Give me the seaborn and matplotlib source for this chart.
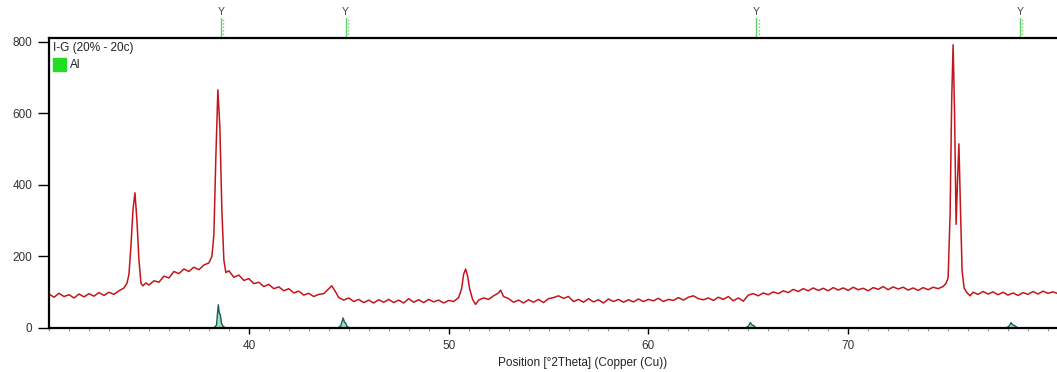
import matplotlib
matplotlib.use("Agg")
import matplotlib.pyplot as plt
import matplotlib.transforms as mtransforms
from matplotlib.ticker import MultipleLocator
import seaborn as sns
import pandas as pd

theta = [30.0, 30.25, 30.5, 30.75, 31.0, 31.25, 31.5, 31.75, 32.0, 32.25, 32.5, 32.75, 33.0, 33.25, 33.5, 33.75,
         33.9, 34.0, 34.1, 34.2, 34.3, 34.4, 34.5, 34.6, 34.7, 34.85,
         35.0, 35.25, 35.5, 35.75, 36.0, 36.25, 36.5, 36.75, 37.0, 37.25, 37.5, 37.75, 38.0, 38.15,
         38.25, 38.35, 38.45, 38.55, 38.65, 38.75, 38.85,
         39.0, 39.25, 39.5, 39.75, 40.0, 40.25, 40.5, 40.75, 41.0, 41.25, 41.5, 41.75, 42.0, 42.25, 42.5, 42.75,
         43.0, 43.25, 43.5, 43.75, 44.0, 44.15, 44.3, 44.5, 44.75, 45.0, 45.25, 45.5, 45.75, 46.0, 46.25, 46.5,
         46.75, 47.0, 47.25, 47.5, 47.75, 48.0, 48.25, 48.5, 48.75, 49.0, 49.25, 49.5, 49.75, 50.0, 50.25, 50.5,
         50.65, 50.75, 50.85, 50.95, 51.05, 51.2, 51.35, 51.5, 51.75, 52.0, 52.25, 52.5, 52.6, 52.75,
         53.0, 53.25, 53.5, 53.75, 54.0, 54.25, 54.5, 54.75, 55.0, 55.25, 55.5, 55.75, 56.0, 56.25, 56.5, 56.75,
         57.0, 57.25, 57.5, 57.75, 58.0, 58.25, 58.5, 58.75, 59.0, 59.25, 59.5, 59.75, 60.0, 60.25, 60.5, 60.75,
         61.0, 61.25, 61.5, 61.75, 62.0, 62.25, 62.5, 62.75, 63.0, 63.25, 63.5, 63.75, 64.0, 64.25, 64.5, 64.75,
         65.0, 65.25, 65.5, 65.75, 66.0, 66.25, 66.5, 66.75, 67.0, 67.25, 67.5, 67.75, 68.0, 68.25, 68.5, 68.75,
         69.0, 69.25, 69.5, 69.75, 70.0, 70.25, 70.5, 70.75, 71.0, 71.25, 71.5, 71.75, 72.0, 72.25, 72.5, 72.75,
         73.0, 73.25, 73.5, 73.75, 74.0, 74.25, 74.5, 74.75, 74.9, 75.0,
         75.1, 75.18, 75.25, 75.32, 75.4, 75.47, 75.54, 75.62, 75.7, 75.8, 75.95,
         76.1, 76.25, 76.5, 76.75, 77.0, 77.25, 77.5, 77.75, 78.0, 78.25, 78.5, 78.75, 79.0, 79.25, 79.5, 79.75,
         80.0, 80.25, 80.5]
counts = [95, 86, 97, 88, 93, 84, 95, 87, 96, 89, 99, 91, 100, 94, 104, 112,
          125, 150, 230, 330, 378, 300, 190, 125, 118, 126,
          120, 132, 128, 145, 140, 158, 152, 165, 158, 170, 163, 176, 182, 200,
          260, 480, 666, 560, 330, 190, 155,
          160, 142, 148, 133, 138, 124, 128, 116, 122, 110, 115, 104, 110, 98, 103, 92,
          97, 88, 94, 96, 110, 118, 105, 85, 78, 84, 74, 80, 71, 78, 70, 79,
          72, 80, 71, 78, 70, 82, 72, 79, 71, 80, 73, 78, 70, 77, 74, 85,
          110, 150, 165, 145, 110, 80, 66, 78, 84, 80, 90, 98, 106, 88,
          82, 72, 78, 70, 79, 72, 80, 71, 82, 85, 90, 83, 88, 74, 80, 72,
          82, 73, 79, 70, 81, 74, 80, 72, 79, 73, 81, 74, 80, 76, 83, 74,
          80, 77, 85, 78, 86, 90, 82, 79, 84, 77, 86, 80, 88, 76, 84, 75,
          92, 96, 90, 98, 93, 101, 96, 104, 99, 108, 102, 110, 104, 112, 105, 111,
          104, 113, 106, 112, 105, 114, 107, 111, 104, 113, 108, 116, 107, 115, 109, 114,
          106, 112, 105, 113, 107, 114, 110, 116, 125, 140,
          320, 640, 792, 610, 290, 410, 515, 330, 160, 112, 98,
          90, 100, 94, 102, 95, 101, 93, 100, 92, 98, 91, 99, 94, 102, 95, 103,
          97, 101, 96]

# Al reference pattern profile (teal)
ref_theta = [30.0, 38.25, 38.38, 38.47, 38.52, 38.57, 38.63, 38.72, 38.85,
             44.45, 44.6, 44.72, 44.78, 44.84, 44.92, 45.05,
             64.85, 65.0, 65.1, 65.18, 65.26, 65.4,
             77.9, 78.05, 78.15, 78.23, 78.32, 78.5, 80.5]
ref_counts = [0, 0, 8, 65, 42, 38, 14, 4, 0,
              0, 6, 28, 17, 14, 4, 0,
              0, 5, 15, 9, 7, 0,
              0, 5, 15, 9, 7, 0, 0]

# stick markers of the Al card above the plot
marker_pos = [38.6, 44.85, 65.4, 78.6]

yticks = [0, 200, 400, 600, 800]
xticks = [40, 50, 60, 70]

scan = pd.DataFrame({"theta": theta, "counts": counts})
ref = pd.DataFrame({"theta": ref_theta, "counts": ref_counts})

sns.set_style("white")
plt.rcParams["font.family"] = ["Liberation Sans", "DejaVu Sans"]

fig = plt.figure(figsize=(10.57, 3.72), dpi=100)
ax = fig.add_axes([0.0464, 0.1183, 0.9536, 0.7796])

ax.fill_between(ref["theta"], ref["counts"], color="#9fe3b0", lw=0)
sns.lineplot(data=ref, x="theta", y="counts", ax=ax, color="#1d5a6b", lw=1.0, estimator=None, sort=False)
sns.lineplot(data=scan, x="theta", y="counts", ax=ax, color="#c3161c", lw=1.1, estimator=None, sort=False)

ax.set_xlim(30, 80.45)
ax.set_ylim(0, 811)
ax.set_xticks(xticks)
ax.set_yticks(yticks)
ax.xaxis.set_minor_locator(MultipleLocator(1))
ax.tick_params(axis="y", direction="out", length=8, width=1, colors="black", labelcolor="#333333",
               labelsize=8.5, pad=4, left=True)
ax.tick_params(axis="x", which="major", direction="out", length=4, width=1, colors="black",
               labelcolor="#333333", labelsize=8.5, pad=5, bottom=True)
ax.tick_params(axis="x", which="minor", direction="out", length=2.5, width=0.8, colors="#999999", bottom=True)

for side in ["left", "top", "bottom"]:
    ax.spines[side].set_color("black")
    ax.spines[side].set_linewidth(1.6)
ax.spines["right"].set_visible(False)

ax.set_ylabel("")
ax.set_xlabel("Position [°2Theta] (Copper (Cu))", fontsize=8.5, color="#222222")
ax.xaxis.set_label_coords(0.529, -0.1)

# legend block
ax.text(0.004, 0.987, "I-G (20% - 20c)", transform=ax.transAxes, fontsize=8.5, color="#222222",
        ha="left", va="top")
ax.add_patch(plt.Rectangle((0.004, 0.885), 0.013, 0.045, transform=ax.transAxes,
                           color="#22dd22", clip_on=False))
ax.text(0.021, 0.908, "Al", transform=ax.transAxes, fontsize=8.5, color="#222222",
        ha="left", va="center")

# reference markers above the frame
trans = mtransforms.blended_transform_factory(ax.transData, ax.transAxes)
for p in marker_pos:
    ax.plot([p, p], [1.0, 1.07], transform=trans, color="#66cc66", lw=1.0, clip_on=False)
    ax.plot([p + 0.12, p + 0.12], [1.0, 1.07], transform=trans, color="#66cc66", lw=1.0,
            ls=(0, (1, 1.5)), clip_on=False)
    ax.text(p, 1.072, "Y", transform=trans, fontsize=7.5, color="#444444", ha="center", va="bottom")

fig.savefig("out.png", dpi=100)
